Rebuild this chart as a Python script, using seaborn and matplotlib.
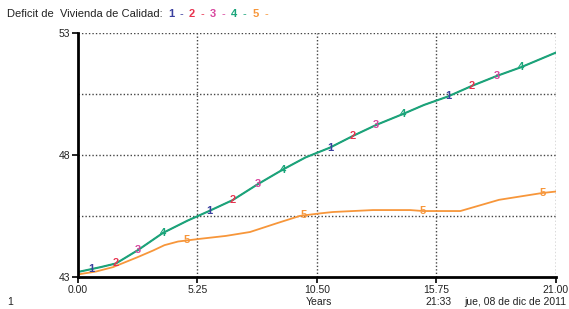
"""Vensim-style run chart: Deficit de Vivienda de Calidad."""
import matplotlib
matplotlib.use("Agg")
import matplotlib.pyplot as plt
import numpy as np
import pandas as pd
import seaborn as sns

# values
years = [0.0, 1.0, 1.67, 2.64, 3.73, 4.8, 5.76, 6.8, 7.9, 9.0, 10.0, 11.07,
         12.08, 13.1, 14.28, 15.2, 16.26, 17.3, 18.4, 19.47, 21.0]
deficit_main = [43.2, 43.4, 43.55, 44.1, 44.8, 45.3, 45.7, 46.15, 46.8, 47.4,
                47.9, 48.3, 48.78, 49.23, 49.68, 50.05, 50.4, 50.83, 51.24,
                51.6, 52.2]
years_5 = [0.0, 0.8, 1.54, 2.6, 3.3, 3.8, 4.4, 5.36, 6.5, 7.56, 8.74, 9.75,
           10.6, 11.2, 12.96, 14.6, 15.16, 16.8, 18.5, 20.4, 21.0]
deficit_5 = [43.1, 43.22, 43.4, 43.8, 44.08, 44.3, 44.45, 44.56, 44.68, 44.84,
             45.2, 45.5, 45.6, 45.66, 45.74, 45.74, 45.7, 45.7, 46.16, 46.44,
             46.5]

series = ["1", "2", "3", "4", "5"]
colors = ["#3a3f9e", "#e8334f", "#d8479f", "#1aa57a", "#f7963a"]
label_x = {
    "1": [0.6, 5.76, 11.07, 16.26],
    "2": [1.67, 6.8, 12.08, 17.3],
    "3": [2.64, 7.9, 13.1, 18.4],
    "4": [3.73, 9.0, 14.28, 19.47],
    "5": [4.8, 9.9, 15.16, 20.4],
}
x_ticks = [0.0, 5.25, 10.5, 15.75, 21.0]
y_ticks = [43, 48, 53]

frames = []
for s in series[:4]:
    frames.append(pd.DataFrame({"years": years, "value": deficit_main, "run": s}))
frames.append(pd.DataFrame({"years": years_5, "value": deficit_5, "run": "5"}))
df = pd.concat(frames, ignore_index=True)

sns.set_style("white")
plt.rcParams["font.family"] = ["Liberation Sans", "DejaVu Sans"]

fig = plt.figure(figsize=(5.69, 3.09), dpi=100)
ax = fig.add_axes([0.137, 0.104, 0.840, 0.789])

# runs 1-4 coincide; the green run ends up on top
widths = {"1": 0.6, "2": 0.6, "3": 0.6, "4": 1.5, "5": 1.3}
for s, c in zip(series, colors):
    sns.lineplot(data=df[df["run"] == s], x="years", y="value", color=c,
                 linewidth=widths[s], legend=False, ax=ax)

for s, c in zip(series, colors):
    sx = years_5 if s == "5" else years
    sy = deficit_5 if s == "5" else deficit_main
    for lx in label_x[s]:
        ax.text(lx, np.interp(lx, sx, sy), s, color=c, fontsize=8,
                fontweight="bold", ha="center", va="center", zorder=5)

ax.set_xlim(0, 21)
ax.set_ylim(43, 53)
ax.set_xticks(x_ticks)
ax.set_xticklabels([f"{t:.2f}" for t in x_ticks], fontsize=7.5)
ax.set_yticks(y_ticks)
ax.set_yticklabels([str(t) for t in y_ticks], fontsize=7.5)
ax.set_xlabel("")
ax.set_ylabel("")

for gx in x_ticks[1:]:
    ax.axvline(gx, color="#444444", linestyle=(0, (1, 1.5)), linewidth=1, zorder=0)
for gy in [45.5, 48, 50.5, 53]:
    ax.axhline(gy, color="#444444", linestyle=(0, (1, 1.5)), linewidth=1, zorder=0)

for side in ["top", "right"]:
    ax.spines[side].set_visible(False)
for side in ["left", "bottom"]:
    ax.spines[side].set_linewidth(2)
    ax.spines[side].set_color("black")
ax.tick_params(axis="both", direction="out", length=4, width=1.2, color="black",
               pad=1.5, labelcolor="#222222")
ax.tick_params(axis="x", bottom=True)
ax.tick_params(axis="y", left=True)

# title with coloured run numbers
t = fig.text(0.012, 0.945, "Deficit de  Vivienda de Calidad:", fontsize=8,
             color="#222222", va="baseline")
for s, c in zip(series, colors):
    t = ax.annotate(s, xy=(1, 0), xycoords=t, xytext=(4, 0),
                    textcoords="offset points", fontsize=8, color=c,
                    va="bottom", fontweight="bold")
    t = ax.annotate("-", xy=(1, 0), xycoords=t, xytext=(4, 0),
                    textcoords="offset points", fontsize=8, color=c,
                    va="bottom")

fig.text(0.012, 0.012, "1", fontsize=7.5, color="#222222")
fig.text(0.561, 0.012, "Years", fontsize=7.5, color="#222222", ha="center")
fig.text(0.770, 0.012, "21:33", fontsize=7.5, color="#222222", ha="center")
fig.text(0.996, 0.012, "jue, 08 de dic de 2011", fontsize=7.5, color="#222222",
         ha="right")

fig.savefig("out.png", dpi=100)
